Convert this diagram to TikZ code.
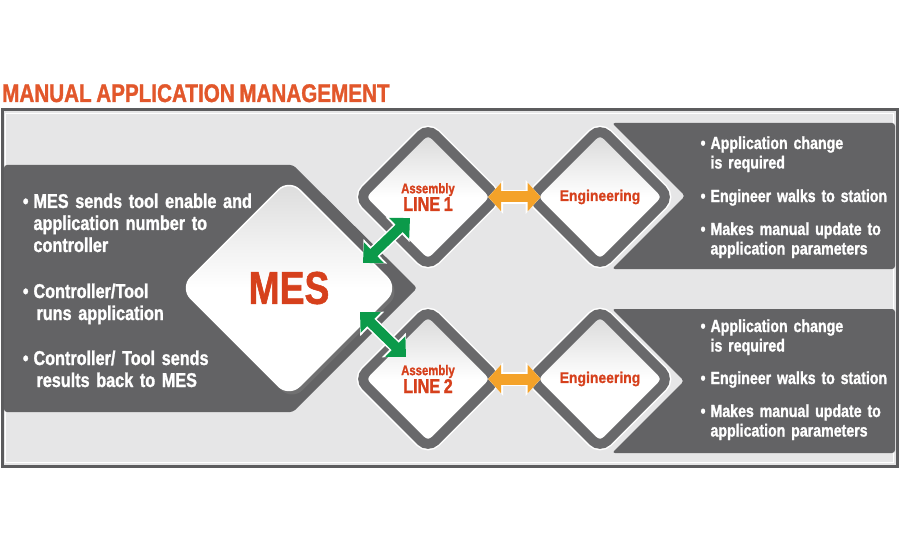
\documentclass[tikz,border=0pt]{standalone}
\usepackage{fontspec}
\setmainfont{Liberation Sans}
\newfontfamily\condfont[FakeStretch=0.81,FakeBold=1.2,WordSpace=0.8]{Liberation Sans}
\newfontfamily\widefont[FakeStretch=0.9,FakeBold=0.8]{Liberation Sans}
\usetikzlibrary{shapes.geometric,arrows.meta,calc,shadows}
\definecolor{titleorange}{HTML}{E2572B}
\definecolor{labelred}{HTML}{D6401C}
\definecolor{panelgrey}{HTML}{636365}
\definecolor{ringgrey}{HTML}{69696B}
\definecolor{framegrey}{HTML}{5C5C5E}
\definecolor{bggrey}{HTML}{E6E6E7}
\definecolor{arrowgreen}{HTML}{0B9A4A}
\definecolor{arroworange}{HTML}{F4A229}
\tikzset{
  ringdiamond/.style={diamond, aspect=1, minimum size=142pt, inner sep=0pt,
    rounded corners=10pt, draw=ringgrey, line width=10pt,
    top color=black!16, bottom color=white, middle color=white,
    preaction={draw=white, line width=13pt},
    align=center, text=labelred, font=\condfont\bfseries},
  mesdiamond/.style={diamond, aspect=1, minimum size=218pt, inner sep=0pt,
    rounded corners=15pt, draw=white, line width=1.5pt,
    top color=black!14, bottom color=white, middle color=white,
    drop shadow={shadow xshift=3pt, shadow yshift=-4pt, opacity=0.45},
    text=labelred, font=\condfont\bfseries\fontsize{46}{46}\selectfont},
  lefttext/.style={anchor=base west, text width=300pt, align=left, text=white,
    font=\condfont\bfseries\fontsize{20}{22}\selectfont},
  righttext/.style={anchor=base west, text width=200pt, align=left, text=white,
    font=\condfont\bfseries\fontsize{17.5}{19.5}\selectfont},
  greenarrow/.style={arrowgreen, line width=10pt,
    {Triangle[length=15pt,width=28pt]}-{Triangle[length=15pt,width=28pt]},
    preaction={draw=white, line width=13pt,
      {Triangle[length=17pt,width=33pt]}-{Triangle[length=17pt,width=33pt]}}},
  orangearrow/.style={arroworange, line width=11pt,
    {Triangle[length=13pt,width=28pt]}-{Triangle[length=13pt,width=28pt]},
    preaction={draw=white, line width=14pt,
      {Triangle[length=15pt,width=33pt]}-{Triangle[length=15pt,width=33pt]}}}
}
\newcommand{\bul}{\llap{\textbullet\hspace{5pt}}}
\begin{document}
\begin{tikzpicture}[x=1pt,y=1pt]
\useasboundingbox[fill=white] (0,0) rectangle (900,550);
% frame
\draw[framegrey, line width=3pt, fill=bggrey] (2,84) rectangle (897,440);
\draw[white, line width=1pt] (5.5,87.5) rectangle (893.5,436.5);
% dark panels
\fill[panelgrey, rounded corners=3pt] (4,138) -- (293,138) -- (417,262) -- (293,385) -- (4,385) -- cycle;
\fill[panelgrey, rounded corners=3pt] (612,427) -- (895,427) -- (895,281) -- (612,281) -- (685,354) -- cycle;
\fill[panelgrey, rounded corners=3pt] (612,241) -- (895,241) -- (895,97) -- (612,97) -- (684,169) -- cycle;
% diamonds
\node[ringdiamond] (line1) at (428,353) {\fontsize{14}{21}\selectfont Assembly\\\fontsize{20}{21}\selectfont LINE 1};
\node[ringdiamond, font=\widefont\bfseries\fontsize{15.5}{18}\selectfont] (eng1) at (600,353) {Engineering};
\node[ringdiamond] (line2) at (428,171) {\fontsize{14}{21}\selectfont Assembly\\\fontsize{20}{21}\selectfont LINE 2};
\node[ringdiamond, font=\widefont\bfseries\fontsize{15.5}{18}\selectfont] (eng2) at (600,171) {Engineering};
\node[mesdiamond] (mes) at (289,262) {MES};
% arrows
\coordinate (g1s) at ($(mes)+(74,25)$);
\coordinate (g1e) at ($(line1)+(-18,-21)$);
\coordinate (g2s) at ($(mes)+(71,-24)$);
\coordinate (g2e) at ($(line2)+(-22,22)$);
\draw[greenarrow] (g1s) -- (g1e);
\draw[greenarrow] (g2s) -- (g2e);
\draw[orangearrow] ($(line1)!0.35!(eng1)$) -- ($(line1)!0.655!(eng1)$);
\draw[orangearrow] ($(line2)!0.35!(eng2)$) -- ($(line2)!0.655!(eng2)$);
% texts
\node[lefttext] (mes1) at (30,342) {\bul MES sends tool enable and\\application number to\\controller};
\node[lefttext] (mes2) at (30,252) {\bul Controller/Tool\\\hspace*{3pt}runs application};
\node[lefttext] (mes3) at (30,185) {\bul Controller/ Tool sends\\\hspace*{3pt}results back to MES};
\node[righttext] (up1) at (707,401) {\bul Application change\\is required};
\node[righttext] (up2) at (707,348) {\bul Engineer walks to station};
\node[righttext] (up3) at (707,315) {\bul Makes manual update to\\application parameters};
\node[righttext] (lo1) at (707,218) {\bul Application change\\is required};
\node[righttext] (lo2) at (707,166) {\bul Engineer walks to station};
\node[righttext] (lo3) at (707,133) {\bul Makes manual update to\\application parameters};
\node[anchor=base west, inner sep=0pt, text=titleorange, font=\condfont\bfseries\fontsize{25.5}{27}\selectfont] (title) at (2,448) {MANUAL APPLICATION MANAGEMENT};
\end{tikzpicture}
\end{document}
